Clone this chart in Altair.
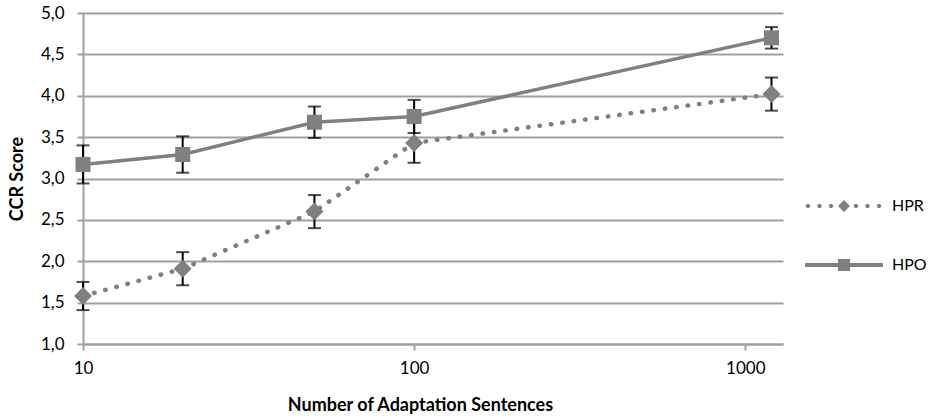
import altair as alt
import pandas as pd

# Number of adaptation sentences (log axis)
sentences = [10, 20, 50, 100, 1200]

# CCR scores with their error margins
hpr_score = [1.58, 1.91, 2.60, 3.43, 4.02]
hpr_err = [0.17, 0.20, 0.20, 0.24, 0.20]
hpo_score = [3.17, 3.29, 3.68, 3.75, 4.70]
hpo_err = [0.23, 0.22, 0.19, 0.20, 0.13]

series_names = ["HPR", "HPO"]
y_ticks = [1.0, 1.5, 2.0, 2.5, 3.0, 3.5, 4.0, 4.5, 5.0]
x_ticks = [10, 100, 1000]

GRAY = "#808080"
GRID = "#a0a0a0"
FONT = "Lato"

rows = []
for name, scores, errs in (("HPR", hpr_score, hpr_err), ("HPO", hpo_score, hpo_err)):
    for n, s, e in zip(sentences, scores, errs):
        rows.append({"series": name, "n": n, "score": s, "lo": s - e, "hi": s + e})
df = pd.DataFrame(rows)

x_enc = alt.X(
    "n:Q",
    scale=alt.Scale(type="log", domain=[10, 1300], nice=False),
    axis=alt.Axis(
        values=x_ticks,
        format="d",
        title="Number of Adaptation Sentences",
        grid=False,
        tickSize=6,
        labelFlush=False,
        labelPadding=10,
        titlePadding=20,
        titleX=337,
    ),
)
y_scale = alt.Scale(domain=[1, 5], nice=False, zero=False)
y_enc = alt.Y(
    "score:Q",
    scale=y_scale,
    axis=alt.Axis(
        values=y_ticks,
        labelExpr="replace(format(datum.value, '.1f'), '.', ',')",
        title="CCR Score",
        grid=True,
        tickSize=6,
        labelPadding=13,
        titlePadding=14,
    ),
)

base = alt.Chart(df)

hpr_line = base.transform_filter(alt.datum.series == "HPR").mark_line(
    color=GRAY, strokeWidth=4.5, strokeDash=[0.5, 11], strokeCap="round"
).encode(x=x_enc, y=y_enc)

hpo_line = base.transform_filter(alt.datum.series == "HPO").mark_line(
    color=GRAY, strokeWidth=3.5
).encode(x="n:Q", y="score:Q")

err_rule = base.mark_rule(color="black", strokeWidth=2).encode(
    x="n:Q", y="lo:Q", y2="hi:Q"
)
cap_lo = base.mark_tick(color="black", orient="horizontal", size=13, thickness=2).encode(
    x="n:Q", y="lo:Q"
)
cap_hi = base.mark_tick(color="black", orient="horizontal", size=13, thickness=2).encode(
    x="n:Q", y="hi:Q"
)

hpr_pts = base.transform_filter(alt.datum.series == "HPR").mark_point(
    shape="diamond", filled=True, color=GRAY, size=324, opacity=1
).encode(x="n:Q", y="score:Q")

hpo_pts = base.transform_filter(alt.datum.series == "HPO").mark_point(
    shape="square", filled=True, color=GRAY, size=225, opacity=1
).encode(x="n:Q", y="score:Q")


def dot(cx, r=2.2):
    return f"M{cx - r},0a{r},{r} 0 1,0 {2 * r},0a{r},{r} 0 1,0 {-2 * r},0Z"


# Legend glyphs: dotted line with a diamond, solid line with a square
hpr_glyph = "".join(dot(c) for c in (-36, -24.5, -13, 12, 23.5, 35)) + "M-6,0L0,-6L6,0L0,6Z"
hpo_glyph = "M-39,-2H39V2H-39Z" + "M-6,-6H6V6H-6Z"

legend_layer = base.mark_point(filled=True, color=GRAY, size=0).encode(
    x="n:Q",
    y="score:Q",
    shape=alt.Shape(
        "series:N",
        scale=alt.Scale(domain=series_names, range=[hpr_glyph, hpo_glyph]),
        legend=alt.Legend(
            title=None,
            orient="none",
            legendX=753,
            legendY=185,
            symbolSize=4,
            symbolFillColor=GRAY,
            symbolStrokeWidth=0,
            symbolOpacity=1,
            labelOffset=40,
            labelFontSize=16,
            labelFont=FONT,
            labelColor="#000000",
            rowPadding=43,
            padding=0,
        ),
    ),
)

chart = (
    alt.layer(hpr_line, hpo_line, err_rule, cap_lo, cap_hi, hpr_pts, hpo_pts, legend_layer)
    .properties(
        width=700,
        height=331,
        autosize=alt.AutoSizeParams(type="none"),
        padding={"left": 83, "top": 13, "right": 145, "bottom": 73},
    )
    .configure_view(stroke=None)
    .configure_axis(
        domainColor=GRID,
        domainWidth=2,
        gridColor=GRID,
        gridWidth=2,
        tickColor=GRID,
        tickWidth=2,
        labelFont=FONT,
        labelFontSize=17,
        labelColor="#000000",
        titleFont=FONT,
        titleFontSize=18,
        titleFontWeight="bold",
        titleColor="#000000",
    )
    .configure_legend(symbolType="circle")
)

chart.save("out.html", embed_options={"renderer": "svg", "actions": False})
